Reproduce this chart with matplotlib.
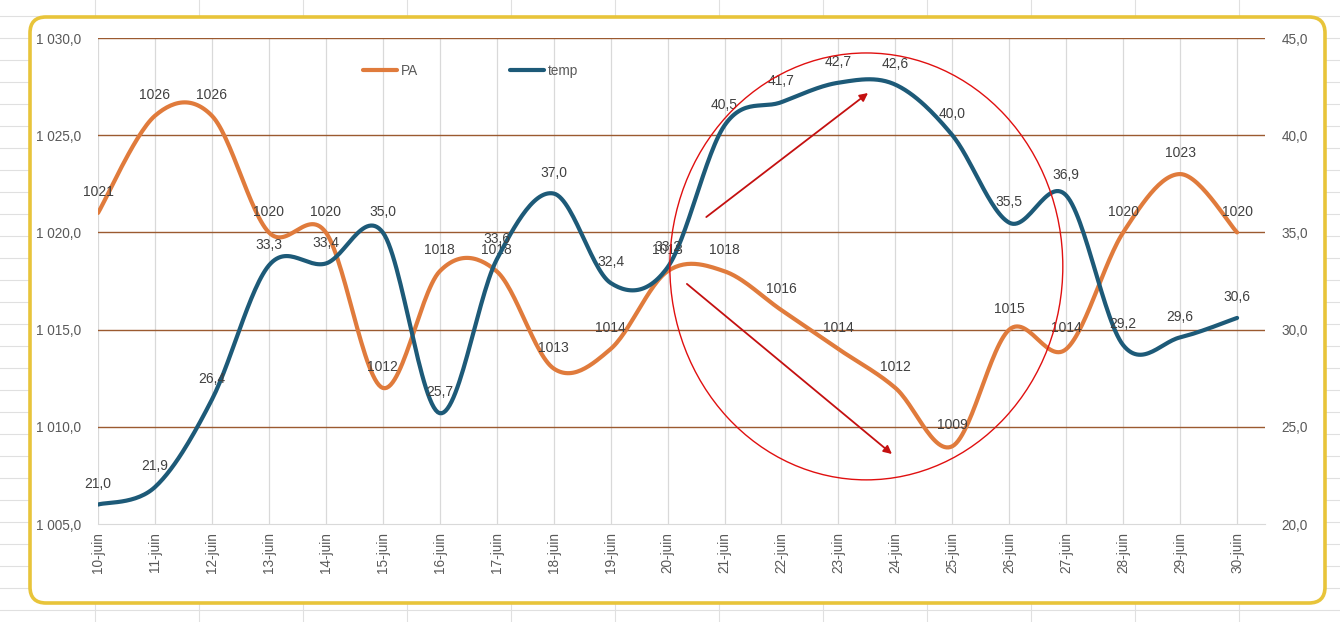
import numpy as np
import matplotlib.pyplot as plt
from matplotlib.patches import FancyBboxPatch, Ellipse

# données
jours = ['10-juin', '11-juin', '12-juin', '13-juin', '14-juin', '15-juin', '16-juin',
         '17-juin', '18-juin', '19-juin', '20-juin', '21-juin', '22-juin', '23-juin',
         '24-juin', '25-juin', '26-juin', '27-juin', '28-juin', '29-juin', '30-juin']
pa = [1021, 1026, 1026, 1020, 1020, 1012, 1018, 1018, 1013, 1014, 1018,
      1018, 1016, 1014, 1012, 1009, 1015, 1014, 1020, 1023, 1020]
temp = [21.0, 21.9, 26.4, 33.3, 33.4, 35.0, 25.7, 33.6, 37.0, 32.4, 33.2,
        40.5, 41.7, 42.7, 42.6, 40.0, 35.5, 36.9, 29.2, 29.6, 30.6]

ORANGE = '#e07b3c'
BLEU = '#1d5a78'
BRUN = '#9b5a30'
GRIS = '#595959'
TEXTE = '#404040'
ROUGE = '#c41010'
plt.rcParams['font.family'] = ['Liberation Sans', 'DejaVu Sans']


def lisser(y, n=30):
    '''Courbe lissée façon Excel (Bézier / Catmull-Rom).'''
    x = np.arange(len(y), dtype=float)
    y = np.asarray(y, dtype=float)
    px = np.concatenate([[x[0]], x, [x[-1]]])
    py = np.concatenate([[y[0]], y, [y[-1]]])
    xs, ys = [], []
    t = np.linspace(0, 1, n)
    for i in range(len(y) - 1):
        p0 = np.array([px[i + 1], py[i + 1]])
        p3 = np.array([px[i + 2], py[i + 2]])
        c1 = p0 + (p3 - np.array([px[i], py[i]])) / 6
        c2 = p3 - (np.array([px[i + 3], py[i + 3]]) - p0) / 6
        b = ((1 - t) ** 3)[:, None] * p0 + (3 * (1 - t) ** 2 * t)[:, None] * c1 \
            + (3 * (1 - t) * t ** 2)[:, None] * c2 + (t ** 3)[:, None] * p3
        xs.append(b[:, 0])
        ys.append(b[:, 1])
    return np.concatenate(xs), np.concatenate(ys)


W, H = 1340, 622
fig = plt.figure(figsize=(W / 100, H / 100), dpi=100)

# fond de feuille de calcul
bg = fig.add_axes([0, 0, 1, 1])
bg.set_xlim(0, W)
bg.set_ylim(H, 0)
bg.axis('off')
for xc in np.arange(95, W, 104):
    bg.axvline(xc, color='#e0e0e0', lw=0.8, zorder=1)
for yc in np.arange(16, H, 22):
    bg.axhline(yc, color='#e0e0e0', lw=0.8, zorder=1)
cadre = FancyBboxPatch((30, 17), 1295, 586, boxstyle='round,pad=0,rounding_size=16',
                       facecolor='white', edgecolor='#e8c43a', lw=2.6, zorder=3)
bg.add_patch(cadre)

# graphique
ax = fig.add_axes([98 / W, 1 - 524 / H, (1265 - 98) / W, (524 - 38) / H])
ax.patch.set_alpha(0)
ax2 = ax.twinx()
x = np.arange(len(jours))

ax.set_xlim(0, 20.49)
ax.set_ylim(1005, 1030)
ax2.set_ylim(20, 45)
ax.set_yticks(np.arange(1005, 1031, 5))
ax2.set_yticks(np.arange(20, 46, 5))
ax.set_yticklabels([f'{v:,.1f}'.replace(',', ' ').replace('.', ',') for v in np.arange(1005, 1031, 5)])
ax2.set_yticklabels([f'{v:.1f}'.replace('.', ',') for v in np.arange(20, 46, 5)])
ax.set_xticks(x)
ax.set_xticklabels(jours, rotation=90)

for a in (ax, ax2):
    for s in a.spines.values():
        s.set_visible(False)
    a.tick_params(length=0, labelsize=9.8, labelcolor=GRIS, pad=12)
ax.tick_params(axis='x', pad=6)
ax.spines['bottom'].set_visible(True)
ax.spines['bottom'].set_color('#d9d9d9')

for v in np.arange(1010, 1031, 5):
    ax.axhline(v, color=BRUN, lw=1.0, zorder=1)
for xi in x:
    ax.axvline(xi, color='#d9d9d9', lw=0.9, zorder=0)

xs, ys = lisser(pa)
l1, = ax.plot(xs, ys, color=ORANGE, lw=3.0, solid_capstyle='round', label='PA', zorder=3)
xs, ys = lisser(temp)
l2, = ax2.plot(xs, ys, color=BLEU, lw=3.0, solid_capstyle='round', label='temp', zorder=3)

for xi, v in zip(x, pa):
    ax.annotate(f'{v}', (xi, v), xytext=(0, 15), textcoords='offset points',
                ha='center', va='center', fontsize=10, color=TEXTE, zorder=5)
for xi, v in zip(x, temp):
    ax2.annotate(f'{v:.1f}'.replace('.', ','), (xi, v), xytext=(0, 15), textcoords='offset points',
                 ha='center', va='center', fontsize=10, color=TEXTE, zorder=5)

# annotations en rouge (cercle + flèches)
cercle = Ellipse((13.49, 1018.25), 6.9, 21.96, fill=False, edgecolor='#e01010', lw=1.0,
                 zorder=6, clip_on=False)
ax2.add_patch(Ellipse((0, 0), 0, 0, visible=False))
ax2.add_artist(cercle)
cercle.set_transform(ax.transData)
for debut, fin in [((10.68, 1020.79), (13.52, 1027.17)),
                   ((10.34, 1017.35), (13.94, 1008.6))]:
    ax2.annotate('', xy=fin, xytext=debut, xycoords=ax.transData, textcoords=ax.transData,
                 arrowprops=dict(arrowstyle='-|>', color=ROUGE, lw=1.3, mutation_scale=12,
                                 shrinkA=0, shrinkB=0))

fig.legend(handles=[l1, l2], loc='center left', bbox_to_anchor=(363 / W, 1 - 71 / H),
           bbox_transform=fig.transFigure, ncol=2, frameon=False, fontsize=9.8,
           handlelength=2.5, handletextpad=0.25, columnspacing=6.8, borderpad=0,
           borderaxespad=0, labelcolor=GRIS)

fig.savefig('out.png', dpi=100)
